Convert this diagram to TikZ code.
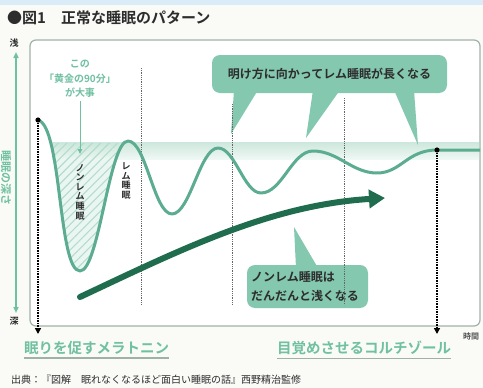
\documentclass[tikz,border=0pt]{standalone}
\usepackage{fontspec}
\setmainfont{Noto Sans CJK JP}[BoldFont={Noto Sans CJK JP Bold}]
\usepackage{tikz}
\usetikzlibrary{arrows.meta,patterns.meta}

\definecolor{wave}{RGB}{92,172,146}
\definecolor{band}{RGB}{196,228,214}
\definecolor{bubble}{RGB}{132,200,176}
\definecolor{deepgreen}{RGB}{32,108,78}
\definecolor{mint}{RGB}{112,192,162}
\definecolor{framegray}{RGB}{160,178,168}
\definecolor{skyblue}{RGB}{218,236,248}
\definecolor{paper}{RGB}{250,251,247}
\definecolor{ink}{RGB}{45,45,45}

\begin{document}
\begin{tikzpicture}[x=1pt,y=-1pt,
    bubblebox/.style={fill=bubble, rounded corners=8pt, inner sep=4pt},
    gridline/.style={densely dotted, gray!80!black, line width=0.8pt},
    markline/.style={densely dotted, black, line width=1.6pt, -{Triangle[width=6pt,length=6pt]}},
    tate/.style={font=\bfseries\fontsize{9}{9.6}\selectfont, align=center, inner sep=0pt, text=ink},
    hormone/.style={anchor=west, inner sep=0pt, text=mint, font=\bfseries\fontsize{14.5}{16}\selectfont},
    underline/.style={framegray, line width=1.2pt}]
    % Page and frame
    \fill[paper] (0,0) rectangle (483,388);
    \fill[skyblue] (0,0) rectangle (483,5);
    \useasboundingbox (0,0) rectangle (483,388);
    \draw[framegray, line width=1.2pt, fill=white, rounded corners=6pt] (30,40) rectangle (480,326);

    % Title
    \node[anchor=west, inner sep=0pt, text=ink, font=\bfseries\fontsize{15}{16}\selectfont] (title) at (7,18) {●図1　正常な睡眠のパターン};

    % Depth axis
    \node[text=ink, font=\bfseries\fontsize{9}{10}\selectfont, inner sep=1pt] (shallow) at (14,43) {浅};
    \node[text=ink, font=\bfseries\fontsize{9}{10}\selectfont, inner sep=1pt] (deep) at (14,321) {深};
    \coordinate (axtop) at (16,52);
    \coordinate (axbot) at (16,313);
    \draw[mint, line width=1.6pt, {Triangle[width=5pt,length=6pt]}-{Triangle[width=5pt,length=6pt]}] (axtop) -- (axbot);
    \node[rotate=-90, text=mint, font=\bfseries\fontsize{11}{12}\selectfont, inner sep=0pt] (depth) at (6,178) {睡眠の深さ};

    % Wave points
    \coordinate (s) at (38,120);
    \coordinate (m1) at (80,271);
    \coordinate (p1) at (128,141);
    \coordinate (m2) at (172,214);
    \coordinate (p2) at (218,148);
    \coordinate (m3) at (261,193);
    \coordinate (p3) at (313,151);
    \coordinate (m4) at (377,173);
    \coordinate (e) at (437,150);
    \coordinate (wend) at (480,150);

    % Golden 90 minutes (hatched)
    \begin{scope}
        \clip (40,143) rectangle (140,300);
        \clip (s) .. controls +(24,6) and +(-22,0) .. (m1) .. controls +(19,0) and +(-19,0) .. (p1) -- cycle;
        \fill[band!35!white] (40,143) rectangle (140,300);
    \end{scope}
    \shade[top color=band, bottom color=band!30!white, opacity=0.85] (52,142) rectangle (479,159);
    \begin{scope}
        \clip (40,143) rectangle (140,300);
        \clip (s) .. controls +(24,6) and +(-22,0) .. (m1) .. controls +(19,0) and +(-19,0) .. (p1) -- cycle;
        \fill[pattern={Lines[angle=45,distance=6pt,line width=1.1pt]}, pattern color=band!85!wave] (40,143) rectangle (140,300);
    \end{scope}

    % Callouts
    \node[bubblebox, minimum width=235pt, minimum height=38pt, font=\bfseries\fontsize{12}{14}\selectfont, text=ink] (dawn) at (329.5,74) {明け方に向かってレム睡眠が長くなる};
    \fill[bubble] (234,90) -- (258,90) -- (231,134) -- cycle;
    \fill[bubble] (313,90) -- (340,90) -- (306,138) -- cycle;
    \fill[bubble] (394,90) -- (414,90) -- (418,145) -- cycle;
    \node[bubblebox, minimum width=121pt, minimum height=43pt, text width=113pt, align=left, font=\bfseries\fontsize{12}{19}\selectfont, text=ink] (lighter) at (307.5,286.5) {ノンレム睡眠は\\だんだんと浅くなる};
    \fill[bubble] (296,268) -- (318,268) -- (294,227) -- cycle;

    % Cycle boundaries
    \coordinate (g1top) at (141,68);
    \coordinate (g1bot) at (141,305);
    \coordinate (g2top) at (232,104);
    \coordinate (g2bot) at (232,305);
    \coordinate (g3top) at (344,98);
    \coordinate (g3bot) at (344,305);
    \draw[gridline] (g1top) -- (g1bot);
    \draw[gridline] (g2top) -- (g2bot);
    \draw[gridline] (g3top) -- (g3bot);

    % Sleep depth wave
    \draw[wave, line width=3pt, line join=round] (s) .. controls +(24,6) and +(-22,0) .. (m1)
        .. controls +(19,0) and +(-19,0) .. (p1)
        .. controls +(18,0) and +(-18,0) .. (m2)
        .. controls +(18,0) and +(-18,0) .. (p2)
        .. controls +(17,0) and +(-17,0) .. (m3)
        .. controls +(21,0) and +(-21,0) .. (p3)
        .. controls +(25,0) and +(-25,0) .. (m4)
        .. controls +(24,0) and +(-30,0) .. (e) -- (wend);

    % Trend arrow
    \coordinate (trendstart) at (80,297);
    \coordinate (trendend) at (385,198);
    \draw[deepgreen, line width=6pt, line cap=round, -{Triangle[width=18pt,length=16pt]}] (trendstart) .. controls (180,250) and (270,205) .. (trendend);

    % Labels in the wave
    \node[text=mint, align=center, font=\bfseries\fontsize{10}{14.5}\selectfont, inner sep=0pt] (golden) at (80,79) {この\\「黄金の90分」\\が大事};
    \coordinate (goldtip) at (80,154);
    \draw[mint, line width=1pt, -{Triangle[width=4.5pt,length=5pt]}] ([yshift=-3pt]golden.south) -- (goldtip);
    \node[tate] (nonrem) at (80,192) {ノ\\ン\\レ\\ム\\睡\\眠};
    \node[tate] (rem) at (126,181) {レ\\ム\\睡\\眠};

    % Sleep onset and waking marks
    \fill (s) circle (2.6pt);
    \fill (e) circle (2.6pt);
    \coordinate (sbot) at (38,334);
    \coordinate (ebot) at (437,334);
    \draw[markline] (s) -- (sbot);
    \draw[markline] (e) -- (ebot);
    \node[text=ink!80, font=\bfseries\fontsize{8}{9}\selectfont, inner sep=0pt] (time) at (471,336) {時間};

    % Hormones
    \node[hormone] (melatonin) at (24,348) {眠りを促すメラトニン};
    \node[hormone] (cortisol) at (277,348) {目覚めさせるコルチゾール};
    \draw[underline] ([yshift=-3pt]melatonin.south west) -- ([yshift=-3pt]melatonin.south east);
    \draw[underline] ([yshift=-3pt]cortisol.south west) -- ([yshift=-3pt]cortisol.south east);

    % Source
    \node[anchor=west, inner sep=0pt, text=ink, font=\fontsize{10}{11}\selectfont] (source) at (11,380) {出典：『図解　眠れなくなるほど面白い睡眠の話』西野精治監修};
\end{tikzpicture}
\end{document}
